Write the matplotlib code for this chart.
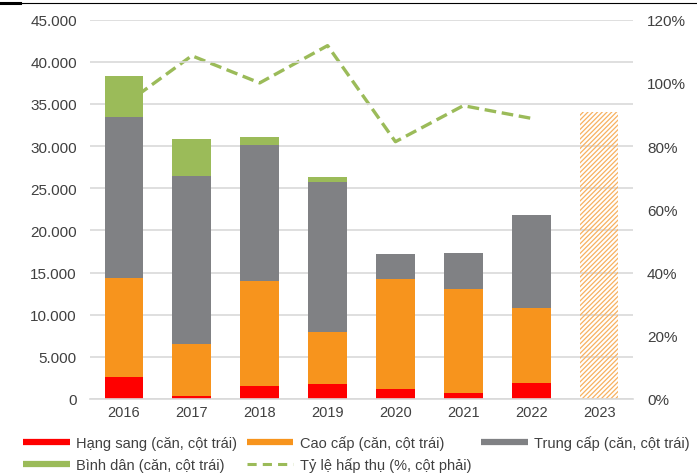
import numpy as np
import matplotlib.pyplot as plt
from matplotlib.lines import Line2D
from matplotlib.ticker import FuncFormatter, MultipleLocator

plt.rcParams['font.family'] = ['Liberation Sans', 'DejaVu Sans']

# Số căn hộ mở bán theo phân khúc (căn) và tỷ lệ hấp thụ (%)
years = ['2016', '2017', '2018', '2019', '2020', '2021', '2022', '2023']
hang_sang = [2600, 300, 1600, 1800, 1200, 700, 1900]
cao_cap = [11800, 6200, 12400, 6200, 13000, 12300, 8900]
trung_cap = [19100, 19900, 16100, 17800, 3000, 4300, 11000]
binh_dan = [4800, 4400, 1000, 500, 0, 0, 0]
du_bao_2023 = 34000
ty_le = [93, 108.6, 100, 111.8, 81.4, 92.8, 88.8]

c_red = '#FF0000'
c_orange = '#F7941D'
c_gray = '#808184'
c_green = '#9BBB59'
c_text = '#404040'

fig = plt.figure(figsize=(6.97, 4.77), dpi=100)
ax = fig.add_axes([90/697, 1-400/477, 543/697, (400-20.7)/477])
ax2 = ax.twinx()
ax.set_zorder(ax2.get_zorder() + 1)
ax.patch.set_visible(False)

x = np.arange(len(hang_sang))
w = 0.57
bottom = np.zeros(len(x))
for vals, col in [(hang_sang, c_red), (cao_cap, c_orange),
                  (trung_cap, c_gray), (binh_dan, c_green)]:
    ax.bar(x, vals, w, bottom=bottom, color=col, linewidth=0)
    bottom += np.array(vals)

plt.rcParams['hatch.linewidth'] = 0.9
ax.bar(7, du_bao_2023, w, facecolor='none', edgecolor='#F7B160',
       hatch='///////', linewidth=0)

ax2.plot(x, ty_le, color=c_green, lw=2.4, dashes=(3.5, 1.7))

ax.set_xlim(-0.5, 7.5)
ax.set_ylim(0, 45000)
ax2.set_ylim(0, 120)
ax.yaxis.set_major_locator(MultipleLocator(5000))
ax2.yaxis.set_major_locator(MultipleLocator(20))
ax.yaxis.set_major_formatter(FuncFormatter(lambda v, p: f'{v:,.0f}'.replace(',', '.')))
ax2.yaxis.set_major_formatter(FuncFormatter(lambda v, p: f'{v:.0f}%'))
ax.set_xticks(np.arange(len(years)))
ax.set_xticklabels(years)

ax.grid(axis='y', color='#D9D9D9', lw=1.2)
ax.set_axisbelow(True)
for a in (ax, ax2):
    for s in a.spines.values():
        s.set_visible(False)
ax.spines['bottom'].set_visible(True)
ax.spines['bottom'].set_color('#D9D9D9')
ax.spines['bottom'].set_linewidth(1.2)

ax.tick_params(axis='y', length=0, pad=9.5, labelsize=11, labelcolor=c_text)
ax.tick_params(axis='x', length=0, pad=4, labelsize=10.5, labelcolor=c_text)
ax2.tick_params(axis='y', length=0, pad=10, labelsize=11, labelcolor=c_text)

# chú thích: xếp theo cột để hiển thị theo hàng
handles = [
    Line2D([], [], color=c_red, lw=4.5, solid_capstyle='butt'),
    Line2D([], [], color=c_green, lw=4.5, solid_capstyle='butt'),
    Line2D([], [], color=c_orange, lw=4.5, solid_capstyle='butt'),
    Line2D([], [], color=c_green, lw=2.2, dashes=(3, 2)),
    Line2D([], [], color=c_gray, lw=4.5, solid_capstyle='butt'),
]
labels = ['Hạng sang (căn, cột trái)', 'Bình dân (căn, cột trái)',
          'Cao cấp (căn, cột trái)', 'Tỷ lệ hấp thụ (%, cột phải)',
          'Trung cấp (căn, cột trái)']
fig.legend(handles, labels, ncol=3, frameon=False, loc='center left',
           bbox_to_anchor=(23/697, 1-455/477), borderpad=0, borderaxespad=0,
           fontsize=10.5, labelcolor=c_text, handlelength=3.2,
           handletextpad=0.45, columnspacing=0.65, labelspacing=0.5)

# đường kẻ trên cùng
fig.add_artist(Line2D([0, 1], [1-4/477, 1-4/477], color='black', lw=0.8,
                      transform=fig.transFigure))
fig.add_artist(Line2D([0, 20/697], [1-4/477, 1-4/477], color='black', lw=2.2,
                      transform=fig.transFigure))

fig.savefig('out.png', dpi=100)
